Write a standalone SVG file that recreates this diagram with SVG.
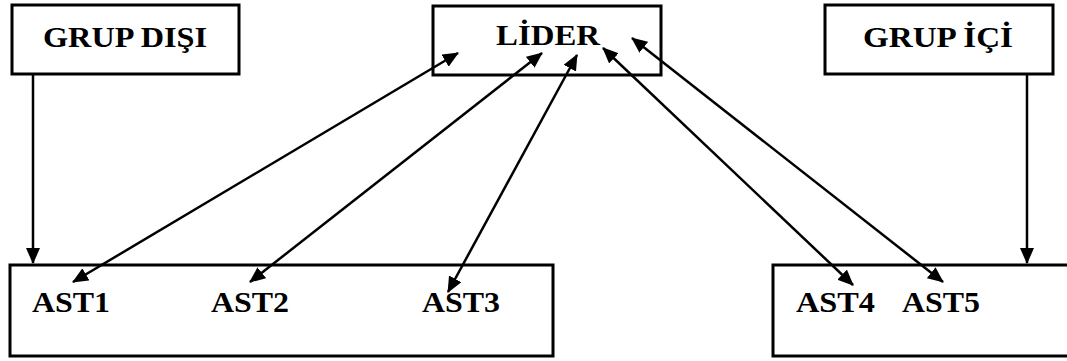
<svg xmlns="http://www.w3.org/2000/svg" width="1067" height="361" viewBox="0 0 1067 361">
  <style>
    .box { fill: #ffffff; stroke: #000000; stroke-width: 3; }
    .lbl { font-family: "Liberation Serif", "Times New Roman", serif; font-weight: bold; font-size: 30px; fill: #000000; }
    .link { stroke: #000000; stroke-width: 2.5; fill: none; }
    .one { marker-end: url(#head); }
    .two { marker-start: url(#head); marker-end: url(#head); }
  </style>
  <defs>
    <marker id="head" viewBox="0 0 16 14" refX="15" refY="7" markerWidth="16" markerHeight="14" markerUnits="userSpaceOnUse" orient="auto-start-reverse">
      <path d="M0,0 L16,7 L0,14 z" fill="#000000"/>
    </marker>
  </defs>
  <rect x="0" y="0" width="1067" height="361" fill="#ffffff"/>

  <g id="grup-disi">
    <rect class="box" x="12" y="5" width="227" height="69"/>
    <text class="lbl" x="43" y="47" textLength="164" lengthAdjust="spacingAndGlyphs">GRUP DIŞI</text>
  </g>

  <g id="lider">
    <rect class="box" x="433" y="6" width="228" height="69"/>
    <text class="lbl" x="496" y="45" textLength="104" lengthAdjust="spacingAndGlyphs">LİDER</text>
  </g>

  <g id="grup-ici">
    <rect class="box" x="825" y="5" width="228" height="69"/>
    <text class="lbl" x="863" y="47" textLength="150" lengthAdjust="spacingAndGlyphs">GRUP İÇİ</text>
  </g>

  <g id="uyeler-1">
    <rect class="box" x="10" y="265" width="543" height="91"/>
    <text class="lbl" x="32" y="312" textLength="78" lengthAdjust="spacingAndGlyphs">AST1</text>
    <text class="lbl" x="211" y="312" textLength="78" lengthAdjust="spacingAndGlyphs">AST2</text>
    <text class="lbl" x="422" y="312" textLength="78" lengthAdjust="spacingAndGlyphs">AST3</text>
  </g>

  <g id="uyeler-2">
    <rect class="box" x="773" y="265" width="300" height="91"/>
    <text class="lbl" x="796" y="312" textLength="79" lengthAdjust="spacingAndGlyphs">AST4</text>
    <text class="lbl" x="902" y="312" textLength="78" lengthAdjust="spacingAndGlyphs">AST5</text>
  </g>

  <g id="connectors">
    <line class="link one" x1="33" y1="75" x2="33" y2="263"/>
    <line class="link one" x1="1027" y1="75" x2="1027" y2="263"/>
    <line class="link two" x1="73" y1="282" x2="458" y2="53"/>
    <line class="link two" x1="250" y1="282" x2="542" y2="53"/>
    <line class="link two" x1="448" y1="292" x2="577" y2="55"/>
    <line class="link two" x1="853" y1="285" x2="603" y2="48"/>
    <line class="link two" x1="943" y1="282" x2="632" y2="38"/>
  </g>
</svg>
